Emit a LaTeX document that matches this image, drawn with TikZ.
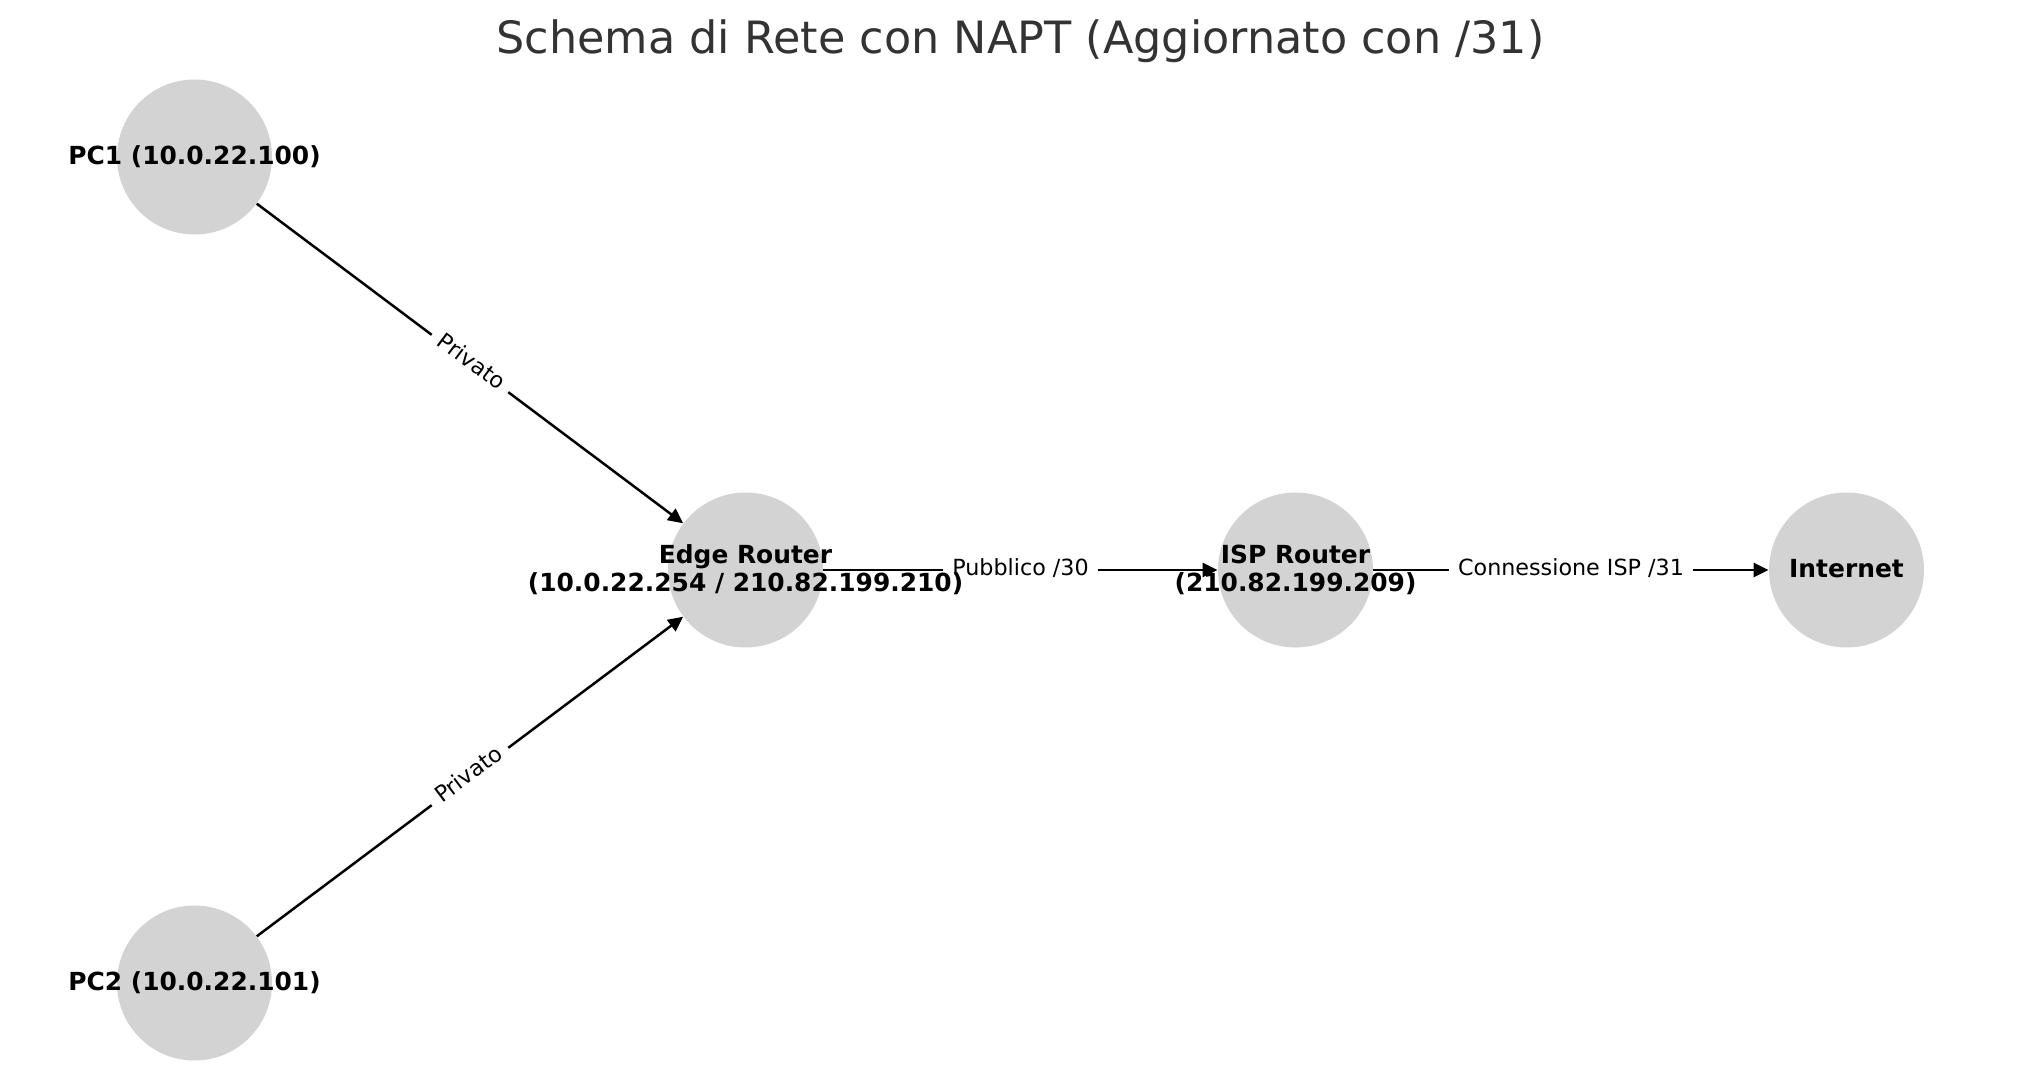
\documentclass[tikz,border=0pt]{standalone}
\usepackage{fontspec}
\setmainfont{DejaVu Sans}
\usetikzlibrary{arrows.meta}
\definecolor{nodegray}{HTML}{D3D3D3}
\definecolor{titlegray}{HTML}{333333}
\newcommand{\lstrut}{\rule[-0.2em]{0pt}{1em}}
\begin{document}
\begin{tikzpicture}[x=0.5pt,y=-0.5pt,
  host/.style={circle,fill=nodegray,minimum size=77.5pt,inner sep=0pt},
  hostlabel/.style={font=\fontsize{12.45}{14.4}\selectfont\bfseries,align=center,inner sep=0pt},
  link/.style={line width=1.25pt,-{Triangle[length=7.5pt,width=7pt]}},
  linklabel/.style={font=\fontsize{11.12}{13.3}\selectfont,fill=white,inner xsep=4.5pt,inner ysep=3pt,text height=0.76em,text depth=0.24em}
]
\useasboundingbox (0,0) rectangle (2039,1090);
% title
\node[anchor=base,font=\fontsize{22.25}{26}\selectfont,text=titlegray,inner sep=0pt] (title) at (1020.5,54) {Schema di Rete con NAPT (Aggiornato con /31)};
% hosts
\node[host] (pc1) at (194.5,157) {};
\node[host] (pc2) at (194.5,983) {};
\node[host] (edge) at (745.5,570) {};
\node[host] (isp) at (1295.5,570) {};
\node[host] (inet) at (1846.5,570) {};
% links
\draw[link] (pc1) -- (edge) node[linklabel,midway,sloped] (lab1) {Privato};
\draw[link] (pc2) -- (edge) node[linklabel,midway,sloped] (lab2) {Privato};
\draw[link] (edge) -- (isp) node[linklabel,midway] (lab3) {Pubblico /30};
\draw[link] (isp) -- (inet) node[linklabel,midway] (lab4) {Connessione ISP /31};
% host labels
\node[hostlabel] (pc1l) at (pc1) {\lstrut PC1 (10.0.22.100)};
\node[hostlabel] (pc2l) at (pc2) {\lstrut PC2 (10.0.22.101)};
\node[hostlabel] (edgel) at (edge) {\lstrut Edge Router\\\lstrut (10.0.22.254 / 210.82.199.210)};
\node[hostlabel] (ispl) at (isp) {\lstrut ISP Router\\\lstrut (210.82.199.209)};
\node[hostlabel] (inetl) at (inet) {\lstrut Internet};
\end{tikzpicture}
\end{document}
